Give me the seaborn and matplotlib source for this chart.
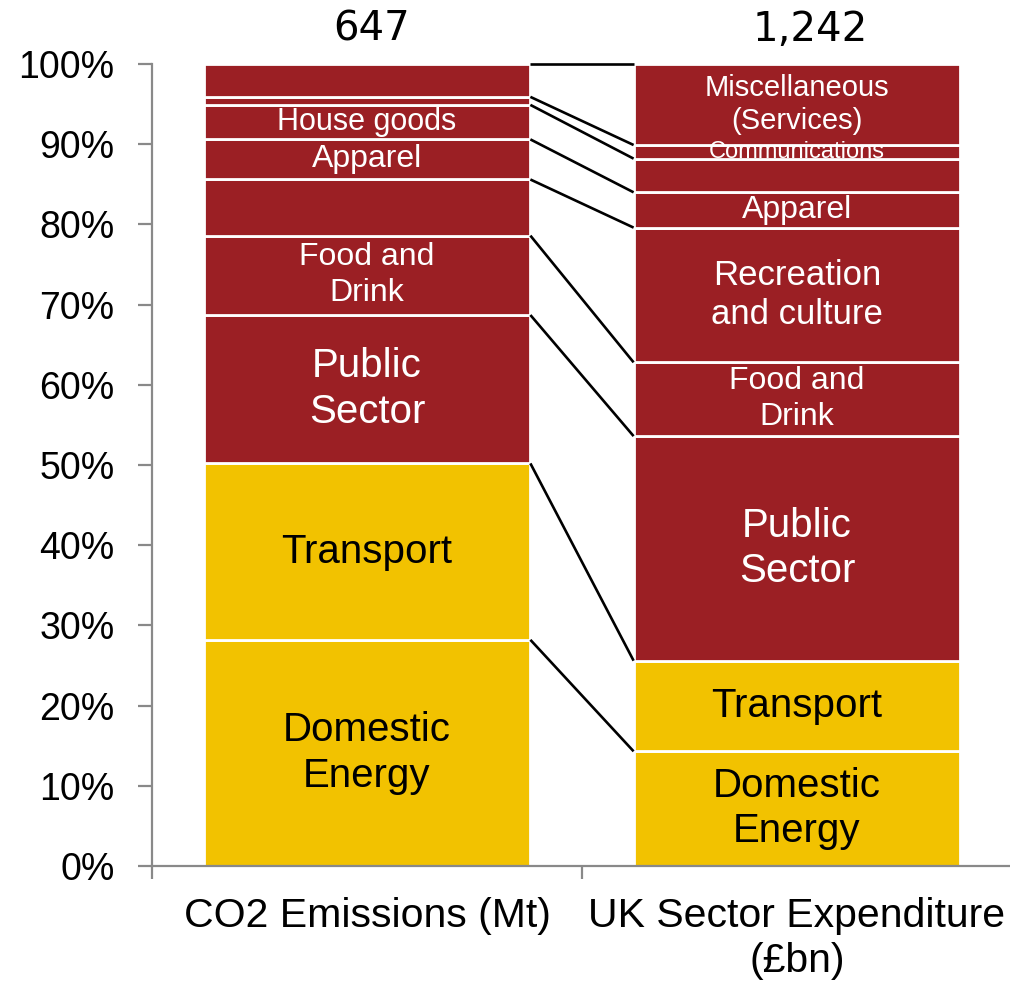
import numpy as np
import pandas as pd
import matplotlib
matplotlib.use("Agg")
import matplotlib.pyplot as plt
import seaborn as sns

# Data: share of each bar (%), bottom to top
bars = ["CO2 Emissions (Mt)", "UK Sector Expenditure\n(£bn)"]
totals = ["647", "1,242"]
sectors = ["Domestic Energy", "Transport", "Public Sector", "Food and Drink",
           "Recreation and culture", "Apparel", "House goods",
           "Communications", "Miscellaneous (Services)"]
co2_share = [28.2, 22.0, 18.5, 9.9, 7.0, 5.0, 4.3, 1.0, 4.1]
spend_share = [14.3, 11.3, 28.0, 9.2, 16.8, 4.4, 4.2, 1.7, 10.1]
co2_labels = ["Domestic\nEnergy", "Transport", "Public\nSector", "Food and\nDrink",
              "", "Apparel", "House goods", "", ""]
spend_labels = ["Domestic\nEnergy", "Transport", "Public\nSector", "Food and\nDrink",
                "Recreation\nand culture", "Apparel", "", "Communications",
                "Miscellaneous\n(Services)"]
energy_sectors = ["Domestic Energy", "Transport"]
y_ticks = [0, 10, 20, 30, 40, 50, 60, 70, 80, 90, 100]
y_tick_labels = [f"{v}%" for v in y_ticks]

# Styles
RED = "#9B1F24"
YELLOW = "#F2C200"
GREY = "#898989"
label_size = {"Domestic\nEnergy": 29, "Transport": 29, "Public\nSector": 29,
              "Food and\nDrink": 23, "Recreation\nand culture": 25, "Apparel": 23,
              "House goods": 22, "Communications": 17,
              "Miscellaneous\n(Services)": 21}
BAR_W = 0.76

sns.set_theme(style="white")
plt.rcParams["font.family"] = ["Liberation Sans", "DejaVu Sans"]
plt.rcParams["text.color"] = "black"

fig = plt.figure(figsize=(10.1, 9.81), dpi=100)
ax = fig.add_axes([152 / 1010, 115 / 981, 860 / 1010, 802 / 981])

df = pd.DataFrame({"sector": sectors, "co2": co2_share, "spend": spend_share})
df["co2_bottom"] = df["co2"].cumsum() - df["co2"]
df["spend_bottom"] = df["spend"].cumsum() - df["spend"]

for i, row in df.iterrows():
    color = YELLOW if row["sector"] in energy_sectors else RED
    sns.barplot(x=bars, y=[row["co2"], row["spend"]],
                bottom=[row["co2_bottom"], row["spend_bottom"]],
                color=color, saturation=1, width=BAR_W,
                edgecolor="white", linewidth=2, ax=ax)
    txt_color = "black" if row["sector"] in energy_sectors else "white"
    for xpos, val, bot, lab in [(0, row["co2"], row["co2_bottom"], co2_labels[i]),
                                (1, row["spend"], row["spend_bottom"], spend_labels[i])]:
        if lab:
            ax.text(xpos, bot + val / 2, lab, ha="center", va="center",
                    color=txt_color, fontsize=label_size[lab],
                    linespacing=1.25, zorder=5)

# connector lines between matching segment tops
left_tops = df["co2_bottom"] + df["co2"]
right_tops = df["spend_bottom"] + df["spend"]
for lt, rt in zip(left_tops, right_tops):
    ax.plot([BAR_W / 2, 1 - BAR_W / 2], [lt, rt], color="black", lw=1.9,
            solid_capstyle="butt", zorder=4, clip_on=False)

# totals above bars
ax.text(0.01, 104.3, totals[0], ha="center", va="center", fontsize=29,
        family="DejaVu Sans", color="black", clip_on=False)
ax.text(1.03, 104.3, totals[1], ha="center", va="center", fontsize=29,
        family="DejaVu Sans", color="black", clip_on=False)

ax.set_xlim(-0.5, 1.5)
ax.set_ylim(0, 100)
ax.set_yticks(y_ticks)
ax.set_yticklabels(y_tick_labels)
ax.set_xlabel("")
ax.set_ylabel("")

sns.despine(ax=ax)
for side in ["left", "bottom"]:
    ax.spines[side].set_color(GREY)
    ax.spines[side].set_linewidth(1.6)

ax.tick_params(axis="y", which="major", length=10, width=1.6, color=GREY,
               labelsize=27, pad=17, left=True, direction="out",
               labelcolor="black")
ax.tick_params(axis="x", which="major", length=0, labelsize=29.5, pad=22,
               labelcolor="black")
ax.set_xticks([-0.5, 0.5, 1.5], minor=True)
ax.tick_params(axis="x", which="minor", length=9, width=1.6, color=GREY,
               bottom=True, direction="out")
for lbl in ax.get_xticklabels():
    lbl.set_linespacing(1.25)

fig.savefig("out.png", dpi=100)
